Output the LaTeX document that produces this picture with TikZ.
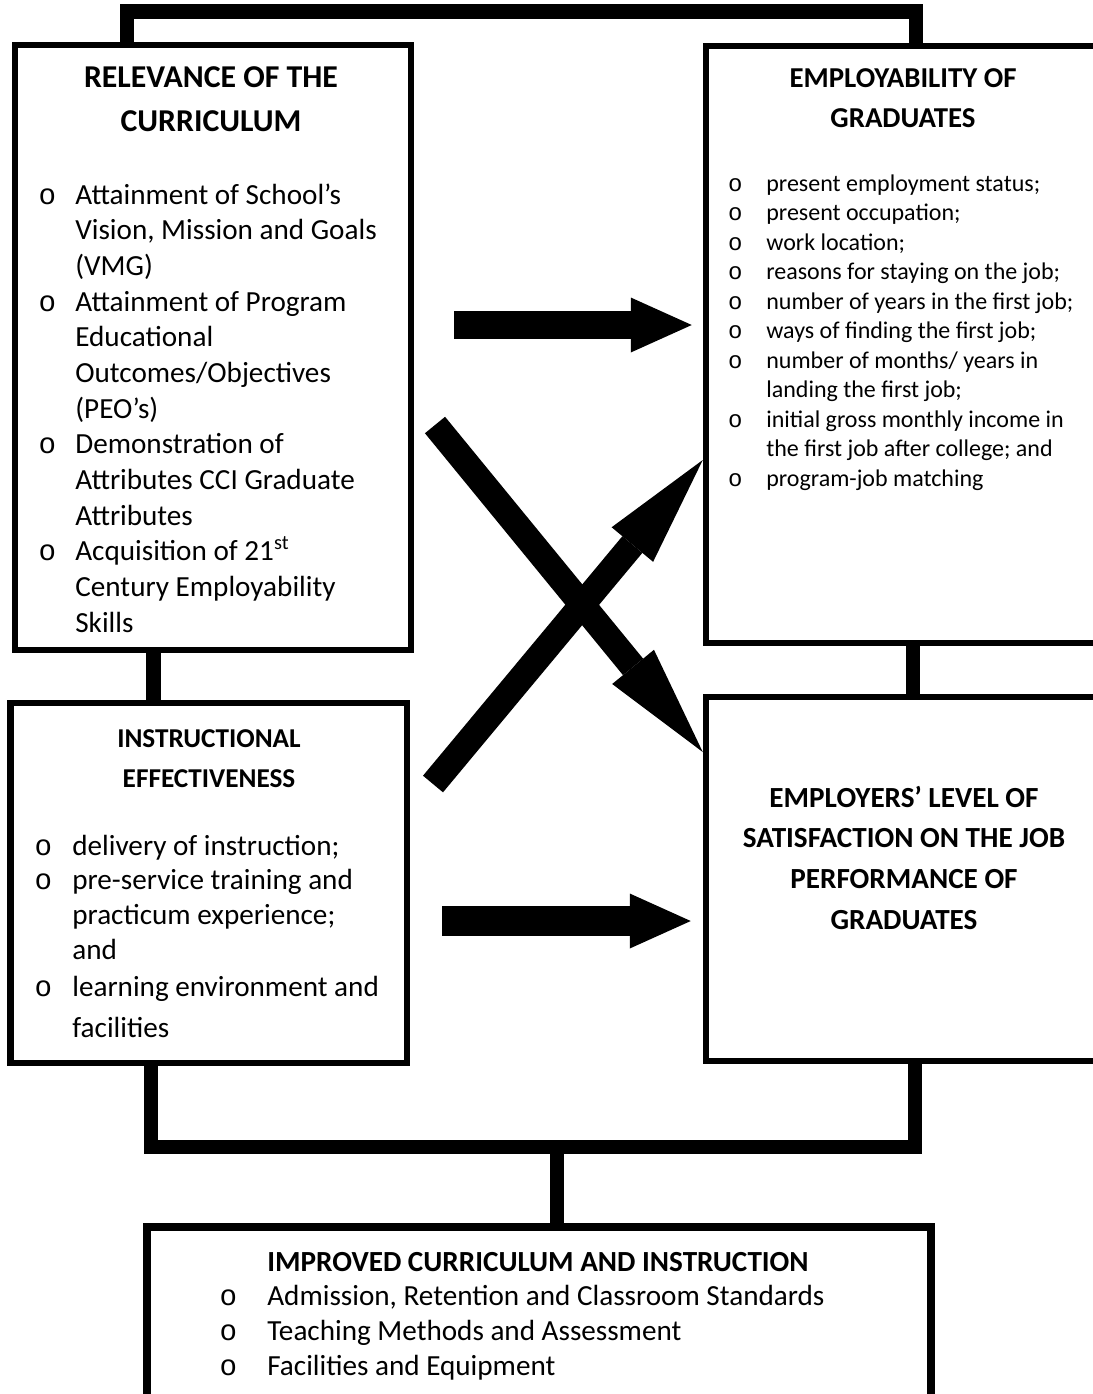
\documentclass[tikz,border=0pt]{standalone}
\usepackage{fontspec}
\setmainfont{Carlito}
\newfontfamily\bulletfont{Liberation Mono}
\usetikzlibrary{arrows.meta, positioning}
\newcommand{\bul}{{\bulletfont o}}

\begin{document}
\begin{tikzpicture}[
  box/.style={draw, line width=3.7pt, inner sep=0pt},
  link/.style={line width=8.5pt},
  bigarrow/.style={line width=15.9pt, -{Triangle[length=1.22cm, width=1.1cm, line width=0pt]}},
  diagarrow/.style={line width=14.8pt, -{Triangle[length=2.2cm, width=1.08cm, line width=0pt]}},
  heading/.style={anchor=base, inner sep=0pt, font=\bfseries\fontsize{16.6}{23.3}\selectfont},
  items/.style={anchor=base west, inner sep=0pt, font=\fontsize{16.6}{20.3}\selectfont}
]
\useasboundingbox (0,0) rectangle (21.86,-27.88);
\clip (0,0) rectangle (21.86,-27.88);

% Relevance of the curriculum
\node[box, minimum width=7.92cm, minimum height=12.10cm] (rel) at (4.26,-6.95) {};
\node[heading, font=\bfseries\fontsize{18.1}{25.6}\selectfont] (rel-title) at (4.22,-1.74)
  {\begin{tabular}[t]{@{}c@{}}RELEVANCE OF THE\\ CURRICULUM\end{tabular}};
\node[items] (rel-list) at (0.764,-4.08) {\begin{tabular}[t]{@{}p{0.736cm}@{}l@{}}
  \bul & Attainment of School’s\\
       & Vision, Mission and Goals\\
       & (VMG)\\
  \bul & Attainment of Program\\
       & Educational\\
       & Outcomes/Objectives\\
       & (PEO’s)\\
  \bul & Demonstration of\\
       & Attributes CCI Graduate\\
       & Attributes\\
  \bul & Acquisition of 21\textsuperscript{st}\\
       & Century Employability\\
       & Skills
  \end{tabular}};

% Employability of graduates
\node[box, minimum width=7.98cm, minimum height=11.94cm] (emp) at (18.11,-6.89) {};
\node[heading, font=\bfseries\fontsize{16.4}{23.3}\selectfont] (emp-title) at (18.06,-1.74)
  {\begin{tabular}[t]{@{}c@{}}EMPLOYABILITY OF\\ GRADUATES\end{tabular}};
\node[items, font=\fontsize{13.65}{16.8}\selectfont] (emp-list) at (14.556,-3.82) {\begin{tabular}[t]{@{}p{0.764cm}@{}l@{}}
  \bul & present employment status;\\
  \bul & present occupation;\\
  \bul & work location;\\
  \bul & reasons for staying on the job;\\
  \bul & number of years in the first job;\\
  \bul & ways of finding the first job;\\
  \bul & number of months/ years in\\
       & landing the first job;\\
  \bul & initial gross monthly income in\\
       & the first job after college; and\\
  \bul & program-job matching
  \end{tabular}};

% Instructional effectiveness
\node[box, minimum width=7.93cm, minimum height=7.20cm] (ins) at (4.175,-17.66) {};
\node[heading, font=\bfseries\fontsize{15.5}{22.8}\selectfont] (ins-title) at (4.18,-14.94)
  {\begin{tabular}[t]{@{}c@{}}INSTRUCTIONAL\\ EFFECTIVENESS\end{tabular}};
\node[items, font=\fontsize{16.6}{19.9}\selectfont] (ins-list) at (0.684,-17.10) {\begin{tabular}[t]{@{}p{0.756cm}@{}l@{}}
  \bul & delivery of instruction;\\
  \bul & pre-service training and\\
       & practicum experience;\\
       & and\\[1.1pt]
  \bul & learning environment and\\[3.4pt]
       & facilities
  \end{tabular}};

% Employers' satisfaction
\node[box, minimum width=7.98cm, minimum height=7.28cm] (ept) at (18.11,-17.58) {};
\node[heading] (ept-title) at (18.08,-16.14)
  {\begin{tabular}[t]{@{}c@{}}EMPLOYERS’ LEVEL OF\\ SATISFACTION ON THE JOB\\ PERFORMANCE OF\\ GRADUATES\end{tabular}};

% Improved curriculum and instruction
\node[box, line width=4.5pt, minimum width=15.68cm, minimum height=3.66cm] (imp) at (10.78,-26.37) {};
\node[items, font=\fontsize{16.6}{19.9}\selectfont] (imp-list) at (4.384,-25.42) {\begin{tabular}[t]{@{}p{0.956cm}@{}l@{}}
       & \textbf{IMPROVED CURRICULUM AND INSTRUCTION}\\
  \bul & Admission, Retention and Classroom Standards\\
  \bul & Teaching Methods and Assessment\\
  \bul & Facilities and Equipment
  \end{tabular}};

% brackets
\coordinate (topL) at (2.54,-0.23);
\coordinate (topR) at (18.32,-0.23);
\draw[link] (rel.north -| topL) -- (topL) -- (topR) -- (emp.north -| topR);
\coordinate (c1) at (3.07,-13.5);
\draw[link] (rel.south -| c1) -- (ins.north -| c1);
\coordinate (c2) at (18.26,-13.4);
\draw[link] (emp.south -| c2) -- (ept.north -| c2);
\coordinate (botL) at (3.02,-22.94);
\coordinate (botR) at (18.30,-22.94);
\coordinate (botM) at (11.14,-22.94);
\draw[link] (ins.south -| botL) -- (botL) -- (botR) -- (ept.south -| botR);
\draw[link] (botM) -- (imp.north -| botM);

% arrows
\coordinate (a1) at (9.08,-6.50);
\coordinate (a2) at (8.84,-18.42);
\draw[bigarrow, shorten >=0.22cm] (a1) -- (emp.west |- a1);
\draw[bigarrow, line width=17.6pt, shorten >=0.24cm] (a2) -- (ept.west |- a2);
\coordinate (d1) at (8.70,-8.50);
\coordinate (d1e) at (14.0,-15.04);
\coordinate (d2) at (8.66,-15.68);
\coordinate (d2e) at (14.0,-9.20);
\draw[diagarrow] (d1) -- (ept.west |- d1e);
\draw[diagarrow] (d2) -- (emp.west |- d2e);
\end{tikzpicture}
\end{document}
